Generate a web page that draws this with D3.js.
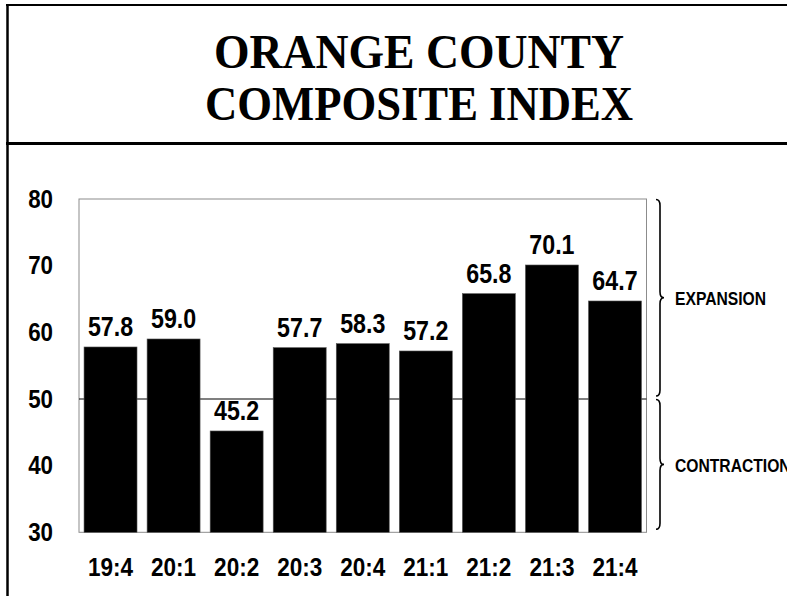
<!DOCTYPE html>
<html>
<head>
<meta charset="utf-8">
<script src="https://cdn.jsdelivr.net/npm/d3@7"></script>
<style>
  html, body { margin: 0; padding: 0; background: #fff; }
  svg { display: block; }
</style>
</head>
<body>
<div id="chart"></div>
<script>
// ---- data ----
const titleLines = ["ORANGE COUNTY", "COMPOSITE INDEX"];
const categories = ["19:4", "20:1", "20:2", "20:3", "20:4", "21:1", "21:2", "21:3", "21:4"];
const values = [57.8, 59.0, 45.2, 57.7, 58.3, 57.2, 65.8, 70.1, 64.7];
const yTicks = [30, 40, 50, 60, 70, 80];
const yDomain = [30, 80];
const threshold = 50;
const zoneLabels = ["EXPANSION", "CONTRACTION"];

// ---- layout ----
const W = 787, H = 596;
const plot = { left: 79, right: 646.5, top: 199, bottom: 532.3 };
const sans = "'Liberation Sans', Arial, sans-serif";
const serif = "'Liberation Serif', 'Times New Roman', serif";

const svg = d3.select("#chart").append("svg")
  .attr("width", W).attr("height", H);

// frame
svg.append("line").attr("x1", 6).attr("x2", W).attr("y1", 5).attr("y2", 5)
  .attr("stroke", "#000").attr("stroke-width", 2);
svg.append("line").attr("x1", 7.5).attr("x2", 7.5).attr("y1", 4).attr("y2", H)
  .attr("stroke", "#000").attr("stroke-width", 2.5);
svg.append("line").attr("x1", 6).attr("x2", W).attr("y1", 143.5).attr("y2", 143.5)
  .attr("stroke", "#000").attr("stroke-width", 3);

// title
const titleWidths = [410, 428];
const titleBase = [68.3, 120];
svg.selectAll("text.title").data(titleLines).join("text")
  .attr("class", "title")
  .attr("x", 419)
  .attr("y", (d, i) => titleBase[i])
  .attr("text-anchor", "middle")
  .attr("font-family", serif)
  .attr("font-weight", "bold")
  .attr("font-size", 48)
  .attr("textLength", (d, i) => titleWidths[i])
  .attr("lengthAdjust", "spacingAndGlyphs")
  .text(d => d);

// scales
const x = d3.scaleBand().domain(categories).range([plot.left, plot.right])
  .paddingInner(0.16).paddingOuter(0.08);
const y = d3.scaleLinear().domain(yDomain).range([plot.bottom, plot.top]);

// plot box
svg.append("rect")
  .attr("x", plot.left).attr("y", plot.top)
  .attr("width", plot.right - plot.left).attr("height", plot.bottom - plot.top)
  .attr("fill", "none").attr("stroke", "#8c8c8c").attr("stroke-width", 1);

// threshold line
svg.append("line")
  .attr("x1", plot.left).attr("x2", plot.right)
  .attr("y1", y(threshold)).attr("y2", y(threshold))
  .attr("stroke", "#000").attr("stroke-width", 1.2);

// bars
svg.selectAll("rect.bar").data(values).join("rect")
  .attr("class", "bar")
  .attr("x", (d, i) => x(categories[i]))
  .attr("y", d => y(d))
  .attr("width", x.bandwidth())
  .attr("height", d => y(yDomain[0]) - y(d))
  .attr("fill", "#000")
  .attr("stroke", "#555").attr("stroke-width", 0.6);

// value labels (condensed bold)
const vs = 0.83;
svg.selectAll("text.val").data(values).join("text")
  .attr("class", "val")
  .attr("transform", (d, i) => `translate(${x(categories[i]) + x.bandwidth() / 2},${y(d) - 10.5}) scale(${vs},1)`)
  .attr("text-anchor", "middle")
  .attr("font-family", sans).attr("font-weight", "bold").attr("font-size", 28)
  .attr("fill", "#000")
  .text(d => d.toFixed(1));

// y axis
const ys = 0.86;
const yAxis = svg.append("g")
  .attr("transform", `translate(${plot.left},0)`)
  .call(d3.axisLeft(y).tickValues(yTicks).tickSize(0).tickPadding(26).tickFormat(d3.format("d")));
yAxis.select(".domain").remove();
yAxis.selectAll("text")
  .attr("font-family", sans).attr("font-weight", "bold").attr("font-size", 26)
  .attr("fill", "#000")
  .attr("x", -26 / ys)
  .attr("transform", `scale(${ys},1)`);

// x axis
const xs = 0.85;
const xAxis = svg.append("g")
  .attr("transform", `translate(0,${plot.bottom})`)
  .call(d3.axisBottom(x).tickSize(0).tickPadding(0));
xAxis.select(".domain").remove();
xAxis.selectAll("text")
  .attr("font-family", sans).attr("font-weight", "bold").attr("font-size", 26.5)
  .attr("fill", "#000")
  .attr("y", 0).attr("dy", 0)
  .attr("transform", `translate(0,43.7) scale(${xs},1)`);

// braces
const zones = [[yDomain[1], threshold], [threshold, yDomain[0]]];
const spineX = 660, endX = 656, tipX = 664, r = 6;
function bracePath(y0, y1) {
  const m = (y0 + y1) / 2;
  return `M${endX},${y0} Q${spineX},${y0} ${spineX},${y0 + r} L${spineX},${m - r} ` +
         `Q${spineX},${m} ${tipX},${m} Q${spineX},${m} ${spineX},${m + r} ` +
         `L${spineX},${y1 - r} Q${spineX},${y1} ${endX},${y1}`;
}
svg.selectAll("path.brace").data(zones).join("path")
  .attr("class", "brace")
  .attr("d", d => bracePath(y(d[0]) + 0.5, y(d[1]) - 3))
  .attr("fill", "none").attr("stroke", "#000").attr("stroke-width", 1.6);

const zs = 0.87;
svg.selectAll("text.zone").data(zoneLabels).join("text")
  .attr("class", "zone")
  .attr("transform", (d, i) => `translate(675,${(y(zones[i][0]) + y(zones[i][1])) / 2 + 6.5}) scale(${zs},1)`)
  .attr("font-family", sans).attr("font-weight", "bold").attr("font-size", 18)
  .attr("fill", "#000")
  .text(d => d);
</script>
</body>
</html>
